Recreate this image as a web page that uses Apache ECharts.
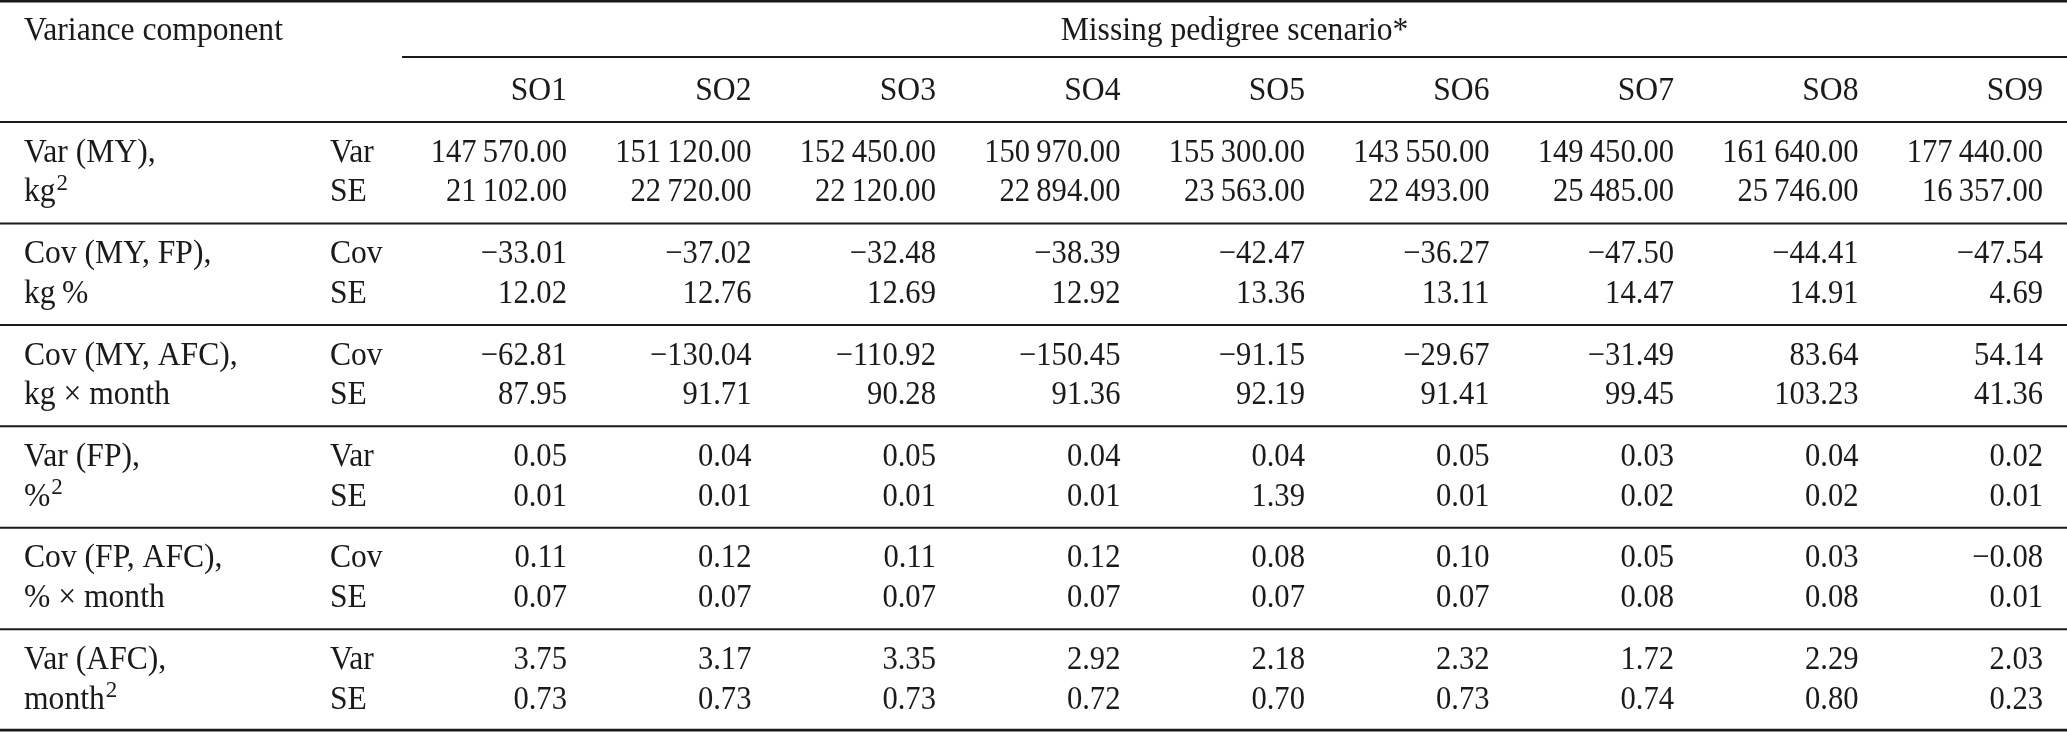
<!doctype html>
<html>
<head>
  <meta charset="utf-8">
  <title>Variance components by missing pedigree scenario</title>
  <script src="https://cdn.jsdelivr.net/npm/echarts@6/dist/echarts.min.js"></script>
  <style>html, body { margin: 0; background: #fff; }</style>
</head>
<body>
  <div id="main" style="width:2067px;height:732px;"></div>
  <script>
  // ---- table content ----
  var headLeft = 'Variance component';
  var headSpan = 'Missing pedigree scenario*';
  var scenarios = ['SO1', 'SO2', 'SO3', 'SO4', 'SO5', 'SO6', 'SO7', 'SO8', 'SO9'];
  var components = ['Var (MY),', 'Cov (MY, FP),', 'Cov (MY, AFC),', 'Var (FP),', 'Cov (FP, AFC),', 'Var (AFC),'];
  var units = ['kg{sup|2}', 'kg\u2009%', 'kg \u00d7 month', '%{sup|2}', '% \u00d7 month', 'month{sup|2}'];
  var statNames = ['Var', 'Cov', 'Cov', 'Var', 'Cov', 'Var'];
  var seName = 'SE';

  var varMY   = [147570, 151120, 152450, 150970, 155300, 143550, 149450, 161640, 177440];
  var varMYse = [21102, 22720, 22120, 22894, 23563, 22493, 25485, 25746, 16357];
  var covMYFP   = [-33.01, -37.02, -32.48, -38.39, -42.47, -36.27, -47.50, -44.41, -47.54];
  var covMYFPse = [12.02, 12.76, 12.69, 12.92, 13.36, 13.11, 14.47, 14.91, 4.69];
  var covMYAFC   = [-62.81, -130.04, -110.92, -150.45, -91.15, -29.67, -31.49, 83.64, 54.14];
  var covMYAFCse = [87.95, 91.71, 90.28, 91.36, 92.19, 91.41, 99.45, 103.23, 41.36];
  var varFP   = [0.05, 0.04, 0.05, 0.04, 0.04, 0.05, 0.03, 0.04, 0.02];
  var varFPse = [0.01, 0.01, 0.01, 0.01, 1.39, 0.01, 0.02, 0.02, 0.01];
  var covFPAFC   = [0.11, 0.12, 0.11, 0.12, 0.08, 0.10, 0.05, 0.03, -0.08];
  var covFPAFCse = [0.07, 0.07, 0.07, 0.07, 0.07, 0.07, 0.08, 0.08, 0.01];
  var varAFC   = [3.75, 3.17, 3.35, 2.92, 2.18, 2.32, 1.72, 2.29, 2.03];
  var varAFCse = [0.73, 0.73, 0.73, 0.72, 0.70, 0.73, 0.74, 0.80, 0.23];

  var estimates = [varMY, covMYFP, covMYAFC, varFP, covFPAFC, varAFC];
  var stdErrors = [varMYse, covMYFPse, covMYAFCse, varFPse, covFPAFCse, varAFCse];

  // ---- layout (axis units: x = scenario column, y = row group) ----
  var FONT = '"Liberation Serif", "Times New Roman", serif';
  var FS = 33;
  var SQUEEZE_TEXT = 0.958;
  var SQUEEZE_NUM = 0.928;
  var INK = '#1a1a1a';
  var X_MIN = -2.073, X_MAX = 9.13;
  var Y_MIN = -1.202, Y_MAX = 6.012;
  var COMP_X = -1.943, STAT_X = -0.285, SPAN_X = 0.106, TITLE_X = 4.618;
  var LINE_Y = [0.305, 0.695];
  var HEAD_Y = -0.89, SUBRULE_Y = -0.64, SCEN_Y = -0.30, TOP_Y = -1.19;

  // superscript: smaller and lifted by half of its bottom padding
  var RICH = {
    sup: { fontSize: 24, fontFamily: FONT, fill: INK, padding: [0, 0, 18, 1] }
  };

  function fmt(v) {
    var s = Math.abs(v).toFixed(2);
    var parts = s.split('.');
    var ip = parts[0];
    if (ip.length >= 5) {
      ip = ip.replace(/\B(?=(\d{3})+(?!\d))/g, '\u2009');
    }
    return (v < 0 ? '\u2212' : '') + ip + '.' + parts[1];
  }

  // cells: [group, column, line]  column -2 = component, -1 = statistic, 0..8 = scenario
  var cells = [];
  for (var g = 0; g < components.length; g++) {
    for (var c = -2; c < scenarios.length; c++) {
      cells.push([g, c, 0]);
      cells.push([g, c, 1]);
    }
  }

  function cellText(g, c, line) {
    if (c === -2) return line === 0 ? components[g] : units[g];
    if (c === -1) return line === 0 ? statNames[g] : seName;
    return fmt(line === 0 ? estimates[g][c] : stdErrors[g][c]);
  }

  function textEl(x, y, text, align, squeeze) {
    return {
      type: 'text',
      x: x, y: y,
      scaleX: squeeze,
      style: {
        legacy: false,
        text: text, x: 0, y: 0,
        align: align, verticalAlign: 'middle',
        font: FS + 'px ' + FONT, fill: INK, rich: RICH
      }
    };
  }

  // header items: -2 left title, -1 spanning title, 0..8 scenario names
  var headers = [-2, -1, 0, 1, 2, 3, 4, 5, 6, 7, 8];
  // horizontal rules: [y, xFrom, xTo, width]
  var rules = [
    [TOP_Y, X_MIN, X_MAX, 2.6],
    [SUBRULE_Y, SPAN_X, X_MAX, 2],
    [0, X_MIN, X_MAX, 2], [1, X_MIN, X_MAX, 2], [2, X_MIN, X_MAX, 2],
    [3, X_MIN, X_MAX, 2], [4, X_MIN, X_MAX, 2], [5, X_MIN, X_MAX, 2],
    [5.994, X_MIN, X_MAX, 2.6]
  ];

  var option = {
    animation: false,
    backgroundColor: '#fff',
    grid: { left: 0, right: 0, top: 0, bottom: 0 },
    xAxis: { type: 'value', min: X_MIN, max: X_MAX, show: false },
    yAxis: { type: 'value', min: Y_MIN, max: Y_MAX, inverse: true, show: false },
    series: [
      {
        type: 'custom',
        name: 'rules',
        data: rules,
        renderItem: function (params, api) {
          var a = api.coord([api.value(1), api.value(0)]);
          var b = api.coord([api.value(2), api.value(0)]);
          return {
            type: 'line',
            shape: { x1: a[0], y1: a[1], x2: b[0], y2: b[1] },
            style: { stroke: INK, lineWidth: api.value(3) }
          };
        }
      },
      {
        type: 'custom',
        name: 'header',
        data: headers.map(function (h) { return [h, 0]; }),
        renderItem: function (params, api) {
          var h = api.value(0);
          var p;
          if (h === -2) {
            p = api.coord([COMP_X, HEAD_Y]);
            return textEl(p[0], p[1], headLeft, 'left', SQUEEZE_TEXT);
          }
          if (h === -1) {
            p = api.coord([TITLE_X, HEAD_Y]);
            return textEl(p[0], p[1], headSpan, 'center', SQUEEZE_TEXT);
          }
          p = api.coord([h + 1, SCEN_Y]);
          return textEl(p[0], p[1], scenarios[h], 'right', SQUEEZE_TEXT);
        }
      },
      {
        type: 'custom',
        name: 'cells',
        data: cells,
        renderItem: function (params, api) {
          var g = api.value(0), c = api.value(1), line = api.value(2);
          var x = c === -2 ? COMP_X : (c === -1 ? STAT_X : c + 1);
          var p = api.coord([x, g + LINE_Y[line]]);
          return textEl(p[0], p[1], cellText(g, c, line), c < 0 ? 'left' : 'right',
            c < 0 ? SQUEEZE_TEXT : SQUEEZE_NUM);
        }
      }
    ]
  };

  var myChart = echarts.init(document.getElementById('main'));
  myChart.setOption(option);
  </script>
</body>
</html>
